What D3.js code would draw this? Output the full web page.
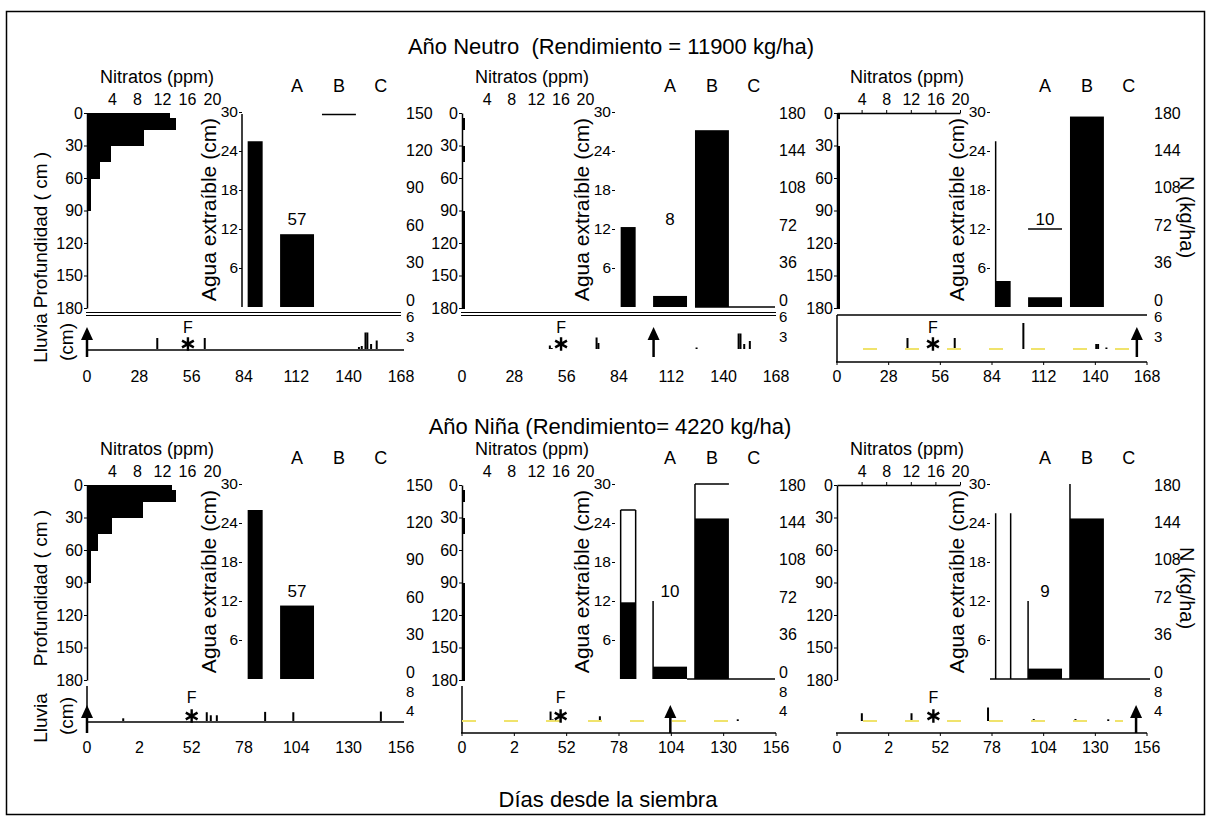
<!DOCTYPE html>
<html><head><meta charset="utf-8">
<script src="https://cdn.jsdelivr.net/npm/d3@7"></script>
<style>
body{margin:0;background:#fff}
text{font-family:"Liberation Sans",Arial,Helvetica,sans-serif;fill:#000}
</style>
</head><body>
<svg id="c" width="1211" height="820"></svg>
<script>
// ---------------- DATA ----------------
const titles = ["Año Neutro  (Rendimiento = 11900 kg/ha)", "Año Niña (Rendimiento= 4220 kg/ha)"];
const xTitle = "Días desde la siembra";
const depthTicks = [0, 30, 60, 90, 120, 150, 180];
const nitrateTicks = [4, 8, 12, 16, 20];
const waterTicks = [6, 12, 18, 24, 30];
const waterCats = ["0", "A", "B", "C"];
const catLabels = ["A", "B", "C"];
const nTicksNeutro1 = [0, 30, 60, 90, 120, 150];
const nTicks = [0, 36, 72, 108, 144, 180];
const dayTicksTop = [0, 28, 56, 84, 112, 140, 168];
const dayTicksBottom = [0, 26, 52, 78, 104, 130, 156];
const dayLabelsBottom = ["0", "2", "52", "78", "104", "130", "156"];
const rainTicksTop = [3, 6];
const rainTicksBottom = [4, 8];

// nitrate profile: [depth from, depth to, ppm]
const nitrate1 = [[0,5,13.3],[5,15,14.2],[15,30,9.1],[30,45,3.8],[45,60,2.0],[60,90,0.7]];
const nitrate2 = [[5,15,0.5],[30,45,0.5],[90,180,0.5]];
const nitrate3 = [[0,5,0.5],[30,180,0.5]];
const nitrate4 = [[0,5,13.6],[5,15,14.2],[15,30,9.0],[30,45,4.0],[45,60,1.8],[60,90,0.6]];
const nitrate5 = [[5,15,0.5],[30,45,0.5],[90,180,0.5]];
const nitrate6 = [];

// extractable water, filled bars: [category, cm]
const water1 = [["0",25.5],["A",11.2]];
const water2 = [["0",12.3],["A",1.7],["B",27.2]];
const water3 = [["0",4.0],["A",1.5],["B",29.3]];
const water4 = [["0",26.0],["A",11.3]];
const water5 = [["0",11.8],["A",1.9],["B",24.7]];
const water6 = [["A",1.6],["B",24.7]];

// outlined (empty) bars: [category, cm, visible edges]
const outline1 = [["B",29.6,"t"]];
const outline2 = [];
const outline3 = [["0",25.5,"l"],["A",12,"t"]];
const outline4 = [];
const outline5 = [["0",26,"ltr"],["A",12,"l"],["B",30,"lt"]];
const outline6 = [["0",25.5,"lr"],["A",12,"l"],["B",30,"l"]];

const waterNotes = ["57", "8", "10", "57", "10", "9"];

// rainfall: [day, cm]
const rain1 = [[37.6,2.2],[63,2.2],[145.5,0.4],[147,0.6],[149,3.3],[150,3.3],[152,1.0],[155,1.7]];
const rain2 = [[47,0.7],[48,0.2],[72,2.3],[73,1.2],[125.5,0.3],[148,3.1],[149,3.1],[151,1.0],[154,1.6]];
const rain3 = [[38.2,2.2],[63.8,2.2],[101,5.2],[140.5,1.0],[141.5,1.0],[146,0.3]];
const rain4 = [[18,0.8],[59.5,2.6],[61.5,1.7],[64.5,1.7],[88.5,2.7],[102.5,2.6],[146,2.8]];
const rain5 = [[44,2.8],[45,0.5],[68.5,1.4],[137,0.5]];
const rain6 = [[12.5,2.3],[37.5,2.3],[76,4.0],[99,0.6],[120,0.6],[136.5,0.5]];

const fertDays = [54, 53, 52, 52, 49, 48.5];
const arrowDays = [0, 102.5, 162.5, 0, 103.5, 150.5];

// ---------------- LAYOUT ----------------
const svg = d3.select("#c");
const FS = 16;
svg.append("rect").attr("x",6.5).attr("y",11.5).attr("width",1198).attr("height",803)
  .attr("fill","none").attr("stroke","#000").attr("stroke-width",1.5);

const cols = [
  {dx:87,  nx1:212, d0:87,  d1:401,  wl:234},
  {dx:462, nx1:585, d0:462, d1:776,  wl:607},
  {dx:837, nx1:960, d0:837, d1:1147, wl:982}
];
const rows = [
  {oy:0,   dayMax:168, dayTicks:dayTicksTop, dayLabels:dayTicksTop.map(String), rainMax:6, rainTicks:rainTicksTop, zero:349, top:319, labelY:382},
  {oy:372, dayMax:156, dayTicks:dayTicksBottom, dayLabels:dayLabelsBottom, rainMax:8, rainTicks:rainTicksBottom, zero:721, top:694, labelY:753}
];
const panels = [
  {r:0,c:0,nit:nitrate1,water:water1,outline:outline1,rain:rain1,nMax:150,nT:nTicksNeutro1},
  {r:0,c:1,nit:nitrate2,water:water2,outline:outline2,rain:rain2,nMax:180,nT:nTicks},
  {r:0,c:2,nit:nitrate3,water:water3,outline:outline3,rain:rain3,nMax:180,nT:nTicks},
  {r:1,c:0,nit:nitrate4,water:water4,outline:outline4,rain:rain4,nMax:150,nT:nTicksNeutro1},
  {r:1,c:1,nit:nitrate5,water:water5,outline:outline5,rain:rain5,nMax:180,nT:nTicks},
  {r:1,c:2,nit:nitrate6,water:water6,outline:outline6,rain:rain6,nMax:180,nT:nTicks}
];

function line(g, x1, y1, x2, y2, w) {
  g.append("line").attr("x1",x1).attr("y1",y1).attr("x2",x2).attr("y2",y2)
    .attr("stroke","#000").attr("stroke-width",w||1.5);
}
function styleAxis(sel, fs) {
  sel.selectAll("text").style("font-size",(fs||FS)+"px").attr("fill","#000")
    .style("font-family",'"Liberation Sans",Arial,sans-serif');
  sel.selectAll("line").attr("stroke","#000");
  sel.selectAll(".domain").attr("stroke","#000").attr("stroke-width",1.5);
}

panels.forEach((p, i) => {
  const C = cols[p.c], R = rows[p.r], oy = R.oy;
  const g = svg.append("g");
  const depthY = d3.scaleLinear([0,180],[113+oy, 308+oy]);
  const nitX = d3.scaleLinear([0,20],[C.dx, C.nx1]);
  const waterY = d3.scaleLinear([0,30],[307+oy, 112+oy]);
  const nY = d3.scaleLinear([0,p.nMax],[300+oy, 113+oy]);
  const waterX = d3.scaleBand(waterCats,[C.wl, C.wl+168]).paddingInner(0.19).paddingOuter(0.1);
  const bw = waterX.bandwidth();
  const dayX = d3.scaleLinear([0,R.dayMax],[C.d0, C.d1]);
  const rainY = d3.scaleLinear([0,R.rainMax],[R.zero, R.top]);

  // ---- nitrate profile ----
  g.append("g").attr("shape-rendering","crispEdges").selectAll("rect").data(p.nit).join("rect")
    .attr("x", nitX(0))
    .attr("y", d => depthY(d[0]))
    .attr("width", d => Math.max(2, nitX(d[2]) - nitX(0)))
    .attr("height", d => depthY(d[1]) - depthY(d[0]) + 0.6)
    .attr("fill","#000");

  const ay = g.append("g").attr("transform",`translate(${C.dx},0)`)
    .call(d3.axisLeft(depthY).tickValues(depthTicks).tickSize(3).tickSizeOuter(0).tickPadding(1));
  styleAxis(ay);

  const ax = g.append("g").attr("transform",`translate(0,${113+oy})`)
    .call(d3.axisTop(nitX).tickValues(nitrateTicks).tickSize(p.c===2?3:0).tickSizeOuter(0).tickPadding(p.c===2?5:8));
  styleAxis(ax);
  if (p.c !== 2) ax.select(".domain").remove();

  g.append("text").attr("x", C.dx+70).attr("y", 83+oy).attr("text-anchor","middle")
    .style("font-size","18px").text("Nitratos (ppm)");

  // ---- water bars ----
  const bx = d => d[0]==="0" ? waterX("0")+bw/2-7.5 : waterX(d[0]);
  const bwid = d => d[0]==="0" ? 15 : bw;
  g.append("g").selectAll("rect").data(p.water).join("rect")
    .attr("x", bx).attr("y", d => waterY(d[1]))
    .attr("width", bwid).attr("height", d => waterY(0) - waterY(d[1]))
    .attr("fill","#000");
  g.append("g").selectAll("path").data(p.outline).join("path")
    .attr("d", d => {
      const xl = bx(d), xr = xl + bwid(d), yt = waterY(d[1]), yb = waterY(0);
      let s = "";
      if (d[2].includes("l")) s += `M${xl},${yb}V${yt}`;
      if (d[2].includes("t")) s += `M${xl},${yt}H${xr}`;
      if (d[2].includes("r")) s += `M${xr},${yt}V${yb}`;
      return s;
    })
    .attr("fill","none").attr("stroke","#000").attr("stroke-width",1.5);

  // water baseline (where visible)
  const baseFrom = [null, waterX("B"), null, null, waterX("A")+bw, C.wl+8][i];
  if (baseFrom !== null) line(g, baseFrom, waterY(0), C.wl+168, waterY(0), 1.5);

  const aw = g.append("g").attr("transform",`translate(${C.wl+8},0)`)
    .call(d3.axisLeft(waterY).tickValues(waterTicks).tickSize(3).tickSizeOuter(0).tickPadding(1));
  styleAxis(aw, 15.5);
  if (i !== 0) aw.select(".domain").remove();
  else aw.select(".domain").attr("d", `M0,${waterY(30)+2}V${waterY(0)}`);

  const an = g.append("g").attr("transform",`translate(${C.wl+172},0)`)
    .call(d3.axisRight(nY).tickValues(p.nT).tickSize(0).tickPadding(0));
  styleAxis(an);
  an.select(".domain").remove();

  // category letters
  g.append("g").selectAll("text").data(catLabels).join("text")
    .attr("x", d => waterX(d)+bw/2).attr("y", 92+oy).attr("text-anchor","middle")
    .style("font-size","18px").text(d => d);

  g.append("text").attr("x", waterX("A")+bw/2).attr("y", waterY(13.5)+6)
    .attr("text-anchor","middle").style("font-size","17px").text(waterNotes[i]);

  const agFs = 21, agX = C.wl-25, agY = waterY(15);
  g.append("text").attr("transform",`translate(${agX+0.35*agFs},${agY}) rotate(-90)`)
    .attr("text-anchor","middle").style("font-size",agFs+"px").text("Agua extraíble (cm)");

  // ---- rain ----
  g.append("g").selectAll("rect").data(p.rain).join("rect")
    .attr("x", d => dayX(d[0])-1).attr("y", d => rainY(d[1]))
    .attr("width", 2).attr("height", d => R.zero - rainY(d[1]))
    .attr("fill","#000");

  // frames
  const yBot = R.zero + 12;
  if (i === 0 || i === 1) {
    line(g, C.d0-1, 312.5, C.d1, 312.5, 1.2);
    line(g, C.d0-1, 315.5, C.d1, 315.5, 1.2);
  }
  if (i === 0 || i === 3) line(g, C.d0, R.zero+1, C.d1+3, R.zero+1, 1.5);
  if (i === 2) {
    line(g, C.d0, 315, C.d1, 315, 1.5);
    line(g, C.d0, 315, C.d0, 362, 1.5);
  }
  if (i === 3 || i === 4) line(g, C.d0, 686, C.d0, yBot, 1.5);
  if (i === 2 || i === 4 || i === 5) {
    const yb = i === 2 ? 362 : yBot;
    line(g, C.d0-1, yb, C.d1, yb, 1.5);
    g.append("g").selectAll("line").data(R.dayTicks).join("line")
      .attr("x1", d => dayX(d)).attr("x2", d => dayX(d))
      .attr("y1", yb).attr("y2", yb+3).attr("stroke","#000").attr("stroke-width",1);
    // yellow zero line (dashed)
    const yStart = i === 4 ? C.d0 : C.d0+26;
    const yEnd = i === 4 ? C.d0+290 : (i === 5 ? C.d0+286 : C.d1);
    g.append("line").attr("x1",yStart).attr("x2",yEnd).attr("y1",R.zero).attr("y2",R.zero)
      .attr("stroke","#f0e36c").attr("stroke-width",2).attr("stroke-dasharray","14,28");
  }

  // day labels
  g.append("g").selectAll("text").data(R.dayTicks).join("text")
    .attr("x", d => dayX(d)).attr("y", R.labelY).attr("text-anchor","middle")
    .style("font-size",FS+"px").text((d,k) => R.dayLabels[k]);

  // rain scale labels (right)
  g.append("g").selectAll("text").data(R.rainTicks).join("text")
    .attr("x", C.wl+172).attr("y", (d,k) => rainY(d) + (k===0 ? 8 : 3))
    .style("font-size","15px").text(d => d);

  // fertilization marker
  const fx = dayX(fertDays[i]);
  g.append("text").attr("x", fx).attr("y", R.zero - (p.r===0?16:18)).attr("text-anchor","middle")
    .style("font-size","16px").text("F");
  g.append("path").attr("d", d3.symbol(d3.symbolAsterisk, 130)())
    .attr("transform",`translate(${fx},${R.zero-5})`)
    .attr("fill","none").attr("stroke","#000").attr("stroke-width",2.4);

  // arrow
  const axx = dayX(arrowDays[i]);
  const tip = R.zero - (p.r===0?22:16), tail = R.zero + (p.r===0?8:12);
  line(g, axx, tail, axx, tip+8, 2.5);
  g.append("path").attr("d", `M${axx},${tip}L${axx-6},${tip+13}L${axx+6},${tip+13}Z`).attr("fill","#000");
});

// ---- left labels ----
function rotText(x, y, s, fs) {
  svg.append("text").attr("transform",`translate(${x+0.35*fs},${y}) rotate(-90)`)
    .attr("text-anchor","middle").style("font-size",fs+"px").text(s);
}
rows.forEach((R, k) => {
  rotText(40, k===0 ? 230 : 588, "Profundidad ( cm )", 19);
  rotText(40, k===0 ? 338 : 718, "Lluvia", 19);
  rotText(66, k===0 ? 342 : 716, "(cm)", 19);
  svg.append("text").attr("transform",`translate(${1187-0.35*20},${k===0?217:588}) rotate(90)`)
    .attr("text-anchor","middle").style("font-size","20px").text("N (kg/ha)");
});

// titles
svg.append("text").attr("x",611).attr("y",54).attr("text-anchor","middle").style("font-size","22px")
  .style("white-space","pre").attr("xml:space","preserve").text(titles[0]);
svg.append("text").attr("x",610).attr("y",434).attr("text-anchor","middle").style("font-size","22px").text(titles[1]);
svg.append("text").attr("x",608).attr("y",807).attr("text-anchor","middle").style("font-size","22px").text(xTitle);
</script>
</body></html>
